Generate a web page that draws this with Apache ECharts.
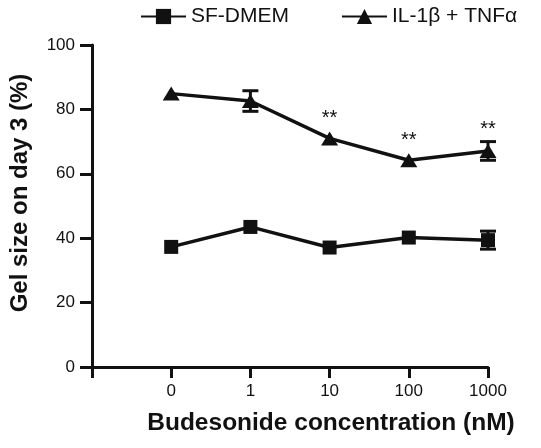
<!DOCTYPE html>
<html>
<head>
<meta charset="utf-8">
<script src="https://cdn.jsdelivr.net/npm/echarts@6/dist/echarts.min.js"></script>
<style>html,body{margin:0;padding:0;background:#fff}#c{width:541px;height:448px}</style>
</head>
<body>
<div id="c"></div>
<script>
var concentrations = ['0', '1', '10', '100', '1000'];
var axisCategories = [''].concat(concentrations);
var sfMean = [37.3, 43.5, 37.1, 40.2, 39.4];
var sfErr = [0, 0, 0, 0, 2.8];
var ilMean = [84.9, 82.6, 71.0, 64.2, 67.1];
var ilErr = [0, 3.2, 0, 0, 2.9];
var significance = ['', '', '**', '**', '**'];
var yTicks = [0, 20, 40, 60, 80, 100];

var FONT = '"Liberation Sans", Arial, Helvetica, sans-serif';
var INK = '#111';

function pairs(means) { return concentrations.map(function (c, i) { return [c, means[i]]; }); }
function errData(means, errs) {
  return concentrations.map(function (c, i) { return [c, means[i], errs[i]]; })
    .filter(function (d) { return d[2] > 0; });
}
function errRender(params, api) {
  var x = api.value(0), m = api.value(1), e = api.value(2);
  var top = api.coord([x, m + e]), bot = api.coord([x, m - e]);
  var half = 8;
  var st = { stroke: INK, lineWidth: 3 };
  return { type: 'group', children: [
    { type: 'line', shape: { x1: top[0], y1: top[1], x2: bot[0], y2: bot[1] }, style: st },
    { type: 'line', shape: { x1: top[0] - half, y1: top[1], x2: top[0] + half, y2: top[1] }, style: st },
    { type: 'line', shape: { x1: bot[0] - half, y1: bot[1], x2: bot[0] + half, y2: bot[1] }, style: st }
  ]};
}
var sigData = concentrations.map(function (c, i) { return [c, ilMean[i], ilErr[i], significance[i]]; })
  .filter(function (d) { return d[3]; });

var chart = echarts.init(document.getElementById('c'), null, { renderer: 'canvas' });
chart.setOption({
  animation: false,
  textStyle: { fontFamily: FONT, color: INK },
  legend: {
    left: 135, top: 1,
    itemWidth: 45, itemHeight: 19, itemGap: 52,
    textStyle: { fontSize: 21, color: INK, fontFamily: FONT },
    data: ['SF-DMEM', 'IL-1β + TNFα']
  },
  grid: { left: 86, right: 53, top: 45, bottom: 81 },
  xAxis: {
    type: 'category', data: axisCategories, boundaryGap: false,
    axisLine: { lineStyle: { color: INK, width: 3 } },
    axisTick: { length: 11, lineStyle: { color: INK, width: 3 } },
    axisLabel: { fontSize: 17, color: INK, margin: 16, fontFamily: FONT },
    splitLine: { show: false },
    name: 'Budesonide concentration (nM)', nameLocation: 'middle', nameGap: 44,
    nameTextStyle: { fontSize: 24.5, fontWeight: 'bold', color: INK, fontFamily: FONT, padding: [0, 0, 0, 82] }
  },
  yAxis: {
    type: 'value', min: 0, max: 100, interval: 20,
    axisLine: { show: true, lineStyle: { color: INK, width: 3 } },
    axisTick: { show: true, length: 12, lineStyle: { color: INK, width: 3 } },
    axisLabel: { fontSize: 17, color: INK, margin: 17, fontFamily: FONT,
      formatter: function (v) { return yTicks.indexOf(v) >= 0 ? String(v) : ''; } },
    splitLine: { show: false },
    name: 'Gel size on day 3 (%)', nameLocation: 'middle', nameGap: 60,
    nameTextStyle: { fontSize: 24, fontWeight: 'bold', color: INK, fontFamily: FONT, padding: [0, 0, 0, 26] }
  },
  series: [
    { name: 'SF-DMEM', type: 'line', data: pairs(sfMean), symbol: 'rect', symbolSize: 14,
      showAllSymbol: true, itemStyle: { color: INK }, lineStyle: { color: INK, width: 3.5 }, z: 3 },
    { name: 'IL-1β + TNFα', type: 'line', data: pairs(ilMean), symbol: 'triangle', symbolSize: [17, 14],
      showAllSymbol: true, itemStyle: { color: INK }, lineStyle: { color: INK, width: 3.5 }, z: 3 },
    { type: 'custom', data: errData(sfMean, sfErr), renderItem: errRender, z: 4, silent: true },
    { type: 'custom', data: errData(ilMean, ilErr), renderItem: errRender, z: 4, silent: true },
    { type: 'custom', data: sigData, z: 5, silent: true,
      renderItem: function (params, api) {
        var x = api.value(0), m = api.value(1), e = api.value(2);
        var p = api.coord([x, m]);
        var topY = Math.min(p[1] - 8, api.coord([x, m + e])[1]);
        return { type: 'text', style: { x: p[0], y: topY - 12, text: sigData[params.dataIndex][3],
          fill: INK, font: '20px ' + FONT, textAlign: 'center', textVerticalAlign: 'middle' } };
      } }
  ]
});
</script>
</body>
</html>
